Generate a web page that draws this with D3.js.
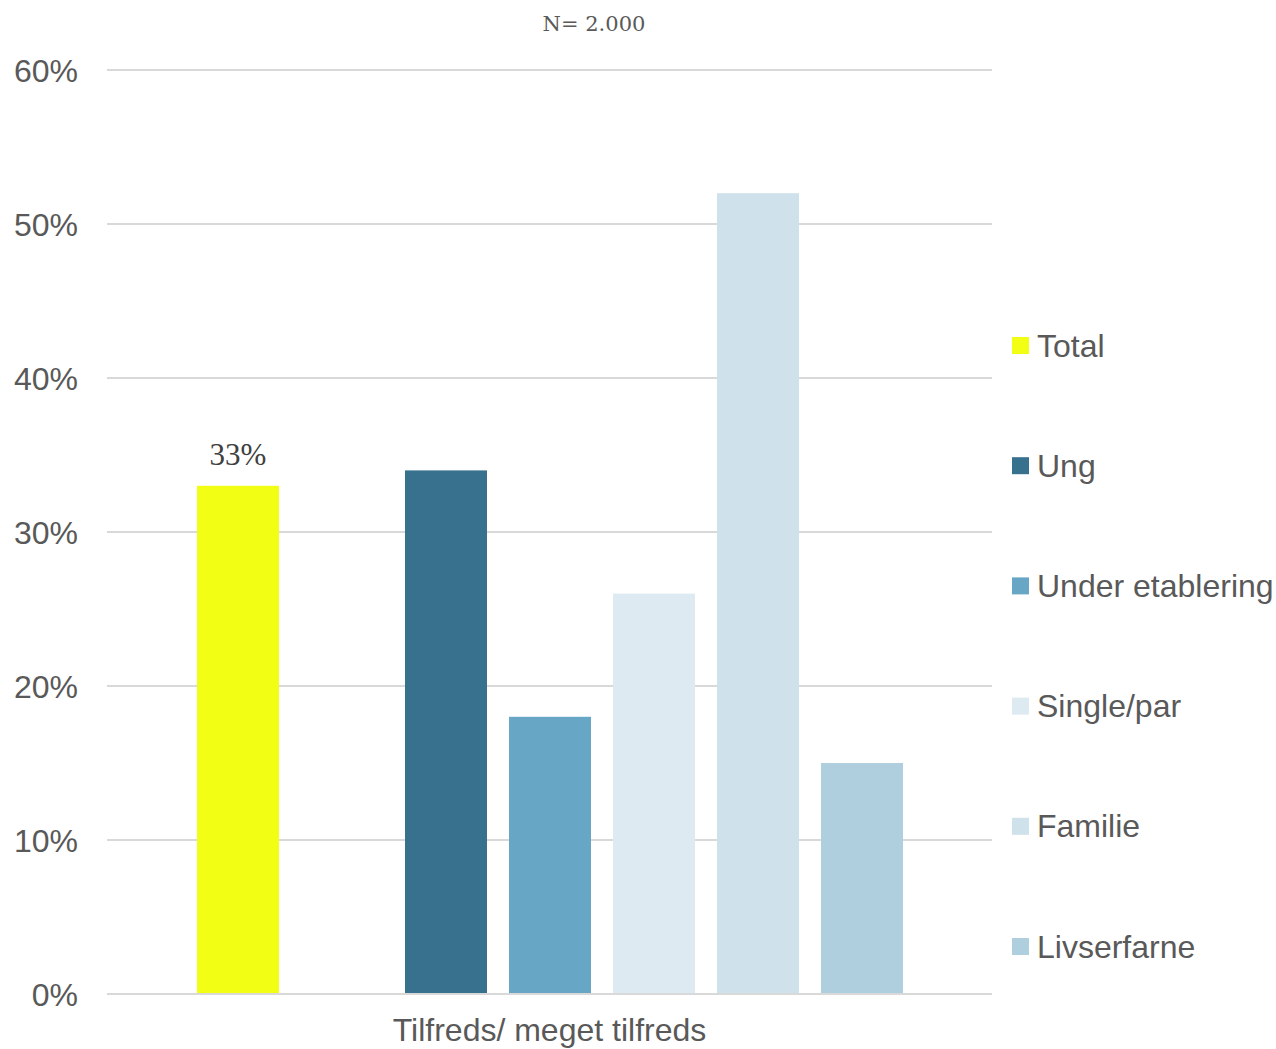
<!DOCTYPE html>
<html><head><meta charset="utf-8">
<script src="https://cdn.jsdelivr.net/npm/d3@7"></script>
<style>body{margin:0;background:#fff;}svg{display:block;}</style>
</head><body>
<svg id="c" width="1276" height="1049"></svg>
<script>
const title = "N= 2.000";
const category = "Tilfreds/ meget tilfreds";
const seriesNames = ["Total", "Ung", "Under etablering", "Single/par", "Familie", "Livserfarne"];
const seriesValues = [33, 34, 18, 26, 52, 15];
const seriesColors = ["#f2ff14", "#37718e", "#67a6c5", "#deeaf1", "#cfe1ea", "#afcfdf"];
const yTicks = [0, 10, 20, 30, 40, 50, 60];
const labelled = ["Total"];

(function () {
const svg = d3.select("#c");
const plotLeft = 107, plotRight = 992, plotTop = 70, plotBottom = 994;

const y = d3.scaleLinear().domain([0, 60]).range([plotBottom, plotTop]);
const slots = [seriesNames[0], "__gap", ...seriesNames.slice(1)];
const x = d3.scaleBand().domain(slots).range([186, 914]).paddingInner(0).paddingOuter(0);

// gridlines
svg.append("g").selectAll("line").data(yTicks).join("line")
  .attr("x1", plotLeft).attr("x2", plotRight)
  .attr("y1", d => y(d)).attr("y2", d => y(d))
  .attr("stroke", "#d9d9d9").attr("stroke-width", 2);

// y tick labels
svg.append("g").selectAll("text").data(yTicks).join("text")
  .attr("x", 78).attr("y", d => y(d)).attr("dy", "0.36em")
  .attr("text-anchor", "end")
  .attr("font-family", "Liberation Sans, Arial, sans-serif")
  .attr("font-size", 32).attr("fill", "#595959")
  .text(d => d + "%");

// bars
const data = seriesNames.map((n, i) => ({name: n, value: seriesValues[i], color: seriesColors[i]}));
const bw = 82;
svg.append("g").selectAll("rect").data(data).join("rect")
  .attr("x", d => x(d.name) + x.bandwidth() / 2 - bw / 2)
  .attr("width", bw)
  .attr("y", d => y(d.value))
  .attr("height", d => y(0) - y(d.value))
  .attr("fill", d => d.color);

// axis baseline
svg.append("line").attr("x1", plotLeft).attr("x2", plotRight).attr("y1", y(0)).attr("y2", y(0))
  .attr("stroke", "#d9d9d9").attr("stroke-width", 2);

// data labels
svg.append("g").selectAll("text").data(data.filter(d => labelled.includes(d.name))).join("text")
  .attr("x", d => x(d.name) + x.bandwidth() / 2)
  .attr("y", d => y(d.value) - 21)
  .attr("text-anchor", "middle")
  .attr("font-family", "Liberation Serif, Times New Roman, serif")
  .attr("font-size", 31).attr("fill", "#404040")
  .text(d => d.value + "%");

// category label
svg.append("text").attr("x", (plotLeft + plotRight) / 2).attr("y", 1041)
  .attr("text-anchor", "middle")
  .attr("font-family", "Liberation Sans, Arial, sans-serif")
  .attr("font-size", 32).attr("fill", "#595959")
  .text(category);

// title
svg.append("text").attr("x", 594).attr("y", 31)
  .attr("text-anchor", "middle")
  .attr("font-family", "DejaVu Serif, serif")
  .attr("font-size", 21).attr("fill", "#595959")
  .text(title);

// legend
const lg = svg.append("g").selectAll("g").data(data).join("g")
  .attr("transform", (d, i) => `translate(1012, ${345 + i * 120.2})`);
lg.append("rect").attr("x", 0).attr("y", -8).attr("width", 17).attr("height", 17).attr("fill", d => d.color);
lg.append("text").attr("x", 25).attr("y", 0).attr("dy", "0.36em")
  .attr("font-family", "Liberation Sans, Arial, sans-serif")
  .attr("font-size", 32).attr("fill", "#595959")
  .text(d => d.name);
})();
</script>
</body></html>
